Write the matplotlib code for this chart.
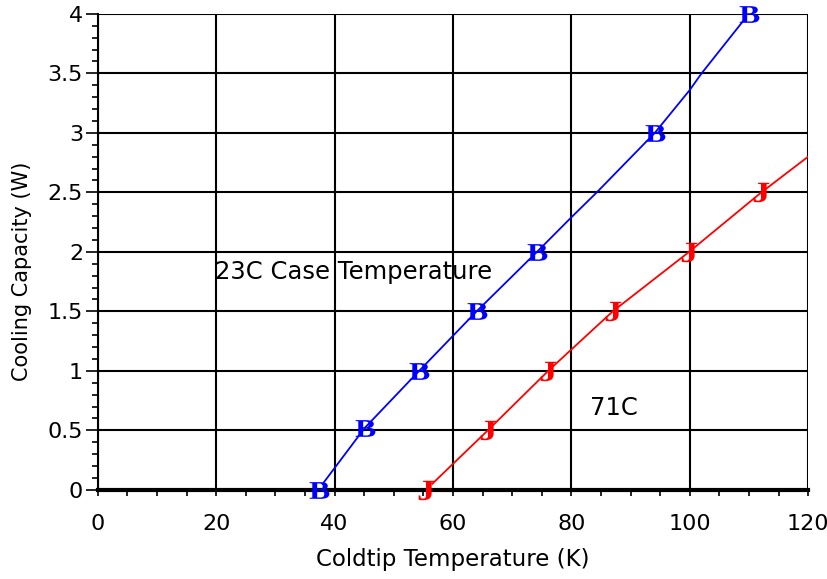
import numpy as np
import matplotlib as mpl
from matplotlib import pyplot as plt
from matplotlib.ticker import MultipleLocator
from matplotlib.textpath import TextPath
from matplotlib.font_manager import FontProperties
from matplotlib.path import Path

mpl.rcParams['font.family'] = ['DejaVu Sans']

# 23C case temperature (blue, "B" markers)
t_23c = [37.3, 45.1, 54.3, 64.0, 74.2, 94.1, 110.0]
q_23c = [0.0, 0.52, 1.0, 1.5, 2.0, 3.0, 4.0]
# line for 23C
line_23c_t = [38.0, 45.1, 54.3, 64.0, 74.2, 80.0, 84.3, 94.1, 100.0, 102.0, 109.5]
line_23c_q = [0.05, 0.52, 1.0, 1.5, 2.0, 2.29, 2.5, 3.0, 3.36, 3.5, 3.97]

# 71C case temperature (red, "J" markers)
t_71c = [55.4, 65.9, 76.1, 87.0, 99.9, 112.1]
q_71c = [0.0, 0.5, 1.0, 1.5, 2.0, 2.5]
line_71c_t = [56.5, 65.9, 76.1, 87.0, 99.9, 112.1, 120.0]
line_71c_q = [0.05, 0.5, 1.0, 1.5, 2.0, 2.5, 2.8]


def letter_marker(ch, stretch=1.25):
  # centred, slightly widened serif bold letter to use as a marker
  fp = FontProperties(family='Liberation Serif', weight='bold')
  tp = TextPath((0, 0), ch, prop=fp, size=1)
  ext = tp.get_extents()
  v = tp.vertices.copy()
  v[:, 0] = (v[:, 0] - (ext.x0 + ext.x1) / 2) * stretch
  v[:, 1] = v[:, 1] - (ext.y0 + ext.y1) / 2
  return Path(v, tp.codes)


fig = plt.figure(figsize=(8.28, 5.79), dpi=100)
ax = fig.add_axes([0.118, 0.154, 0.858, 0.822])

ax.plot(line_23c_t, line_23c_q, color='blue', lw=1.3)
ax.plot(line_71c_t, line_71c_q, color='red', lw=1.3)
ax.plot(t_23c, q_23c, linestyle='none', marker=letter_marker('B'), markersize=15,
        color='blue', markeredgewidth=0, clip_on=False, zorder=5)
ax.plot(t_71c, q_71c, linestyle='none', marker=letter_marker('J'), markersize=14,
        color='red', markeredgewidth=0, clip_on=False, zorder=5)

ax.text(19.8, 1.83, '23C Case Temperature', fontsize=17.5, va='center', ha='left')
ax.text(83.2, 0.69, '71C', fontsize=17.5, va='center', ha='left')

ax.set_xlim(0, 120)
ax.set_ylim(0, 4)
ax.xaxis.set_major_locator(MultipleLocator(20))
ax.xaxis.set_minor_locator(MultipleLocator(5))
ax.yaxis.set_minor_locator(MultipleLocator(0.1))
ax.set_yticks([0, 0.5, 1, 1.5, 2, 2.5, 3, 3.5, 4])
ax.set_yticklabels(['0', '0.5', '1', '1.5', '2', '2.5', '3', '3.5', '4'])

ax.grid(True, which='major', color='black', lw=1.5)
ax.spines['top'].set_visible(False)
ax.spines['right'].set_visible(False)
ax.spines['left'].set_linewidth(1.5)
ax.spines['bottom'].set_linewidth(3)
ax.tick_params(which='major', direction='out', length=9, width=1.2, labelsize=16, pad=1.5)
ax.tick_params(which='minor', direction='out', length=4, width=1.2)
ax.tick_params(axis='x', which='both', length=4.5)
ax.tick_params(axis='x', which='major', pad=13)

ax.set_xlabel('Coldtip Temperature (K)', fontsize=16.5, labelpad=10)
ax.set_ylabel('Cooling Capacity (W)', fontsize=15)
ax.yaxis.set_label_coords(-0.093, 0.46)

plt.savefig('out.png', dpi=100)
